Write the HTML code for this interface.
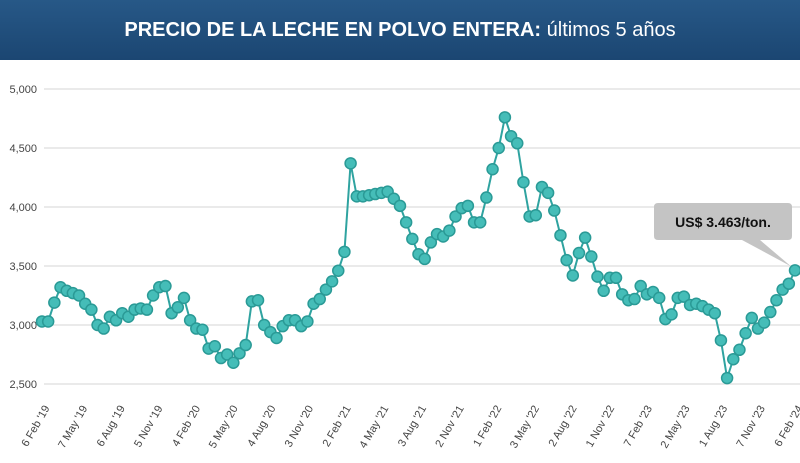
<!DOCTYPE html>
<html><head><meta charset="utf-8"><style>
body{margin:0;width:800px;height:463px;background:#fff;overflow:hidden;font-family:"Liberation Sans",sans-serif}
#hdr{position:absolute;left:0;top:0;width:800px;height:60px;background:linear-gradient(#275887,#1b4672);color:#fff;text-align:center;line-height:60px;font-size:20px}
</style></head><body>
<div id="hdr"><b>PRECIO DE LA LECHE EN POLVO ENTERA:</b> últimos 5 años</div>
<svg id="c" width="800" height="463" style="position:absolute;left:0;top:0"></svg>
<script>
const values=[3030,3030,3190,3320,3290,3270,3250,3180,3130,3000,2970,3070,3040,3100,3070,3130,3140,3130,3250,3320,3330,3100,3150,3230,3040,2970,2960,2800,2820,2720,2750,2680,2760,2830,3200,3210,3000,2940,2890,2990,3040,3040,2990,3030,3180,3220,3300,3370,3460,3620,4370,4090,4090,4100,4110,4120,4130,4070,4010,3870,3730,3600,3560,3700,3770,3750,3800,3920,3990,4010,3870,3870,4080,4320,4500,4760,4600,4540,4210,3920,3930,4170,4120,3970,3760,3550,3420,3610,3740,3580,3410,3290,3400,3400,3260,3210,3220,3330,3260,3280,3230,3050,3090,3230,3240,3170,3180,3160,3130,3100,2870,2550,2710,2790,2930,3060,2970,3020,3110,3210,3300,3350,3463];
const yTicks=[2500,3000,3500,4000,4500,5000];
const yTickLabels=["2,500","3,000","3,500","4,000","4,500","5,000"];
const xLabels=["6 Feb '19","7 May '19","6 Aug '19","5 Nov '19","4 Feb '20","5 May '20","4 Aug '20","3 Nov '20","2 Feb '21","4 May '21","3 Aug '21","2 Nov '21","1 Feb '22","3 May '22","2 Aug '22","1 Nov '22","7 Feb '23","2 May '23","1 Aug '23","7 Nov '23","6 Feb '24"];
const ns="http://www.w3.org/2000/svg",svg=document.getElementById('c');
const y=v=>384-(v-2500)*(295/2500);
const x=i=>42+i*(753/(values.length-1));
function mk(t,a){const e=document.createElementNS(ns,t);for(const k in a)e.setAttribute(k,a[k]);svg.appendChild(e);return e;}
yTicks.forEach((t,i)=>{
 const g=mk('line',{x1:44,x2:800,y1:y(t),y2:y(t),stroke:'#e3e3e3','stroke-width':1.5});
 
 
 const l=mk('text',{x:37,y:y(t)+4,'text-anchor':'end','font-size':11,fill:'#444'});l.textContent=yTickLabels[i];
 
 
});
const xs=(795-42)/(xLabels.length-1);
xLabels.forEach((s,i)=>{
 const tx=50+i*xs;
 const l=mk('text',{x:tx,y:408,'text-anchor':'end','font-size':11,fill:'#444',transform:`rotate(-60 ${tx} 408)`});
 l.textContent=s;
 
 
});
const p=mk('polyline',{points:values.map((v,i)=>x(i)+','+y(v)).join(' '),fill:'none',stroke:'#2fa3a0','stroke-width':2});


values.forEach((v,i)=>{
 const c=mk('circle',{cx:x(i),cy:y(v),r:5.5,fill:'#45bdb8',stroke:'#2a9a96','stroke-width':1.5});
 
 
});
const lx=x(values.length-1),ly=y(values[values.length-1]);
const tip=mk('path',{d:`M658 203 H788 Q792 203 792 207 V236 Q792 240 788 240 H760 L${lx-4} ${ly-4} L742 240 H658 Q654 240 654 236 V207 Q654 203 658 203 Z`,fill:'#c4c4c4'});


const tt=mk('text',{x:723,y:227,'text-anchor':'middle','font-size':14,'font-weight':'bold',fill:'#111'});tt.textContent='US$ 3.463/ton.';


</script>
</body></html>
